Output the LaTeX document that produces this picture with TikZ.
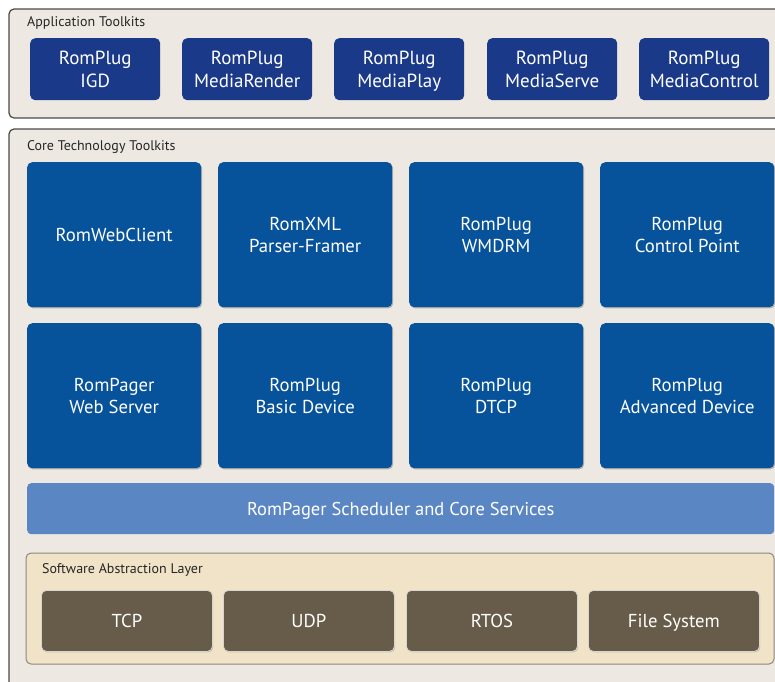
\documentclass[tikz,border=0pt]{standalone}
\usepackage{fontspec}
\setmainfont{PT Sans}
\usetikzlibrary{shadows}
\definecolor{outerfill}{HTML}{EDE8E1}
\definecolor{outerline}{HTML}{4A4A4A}
\definecolor{appblue}{HTML}{1A3A89}
\definecolor{coreblue}{HTML}{06529B}
\definecolor{schedblue}{HTML}{5A87C4}
\definecolor{salfill}{HTML}{F1E3C7}
\definecolor{salline}{HTML}{8A8A80}
\definecolor{graybox}{HTML}{675C49}
\tikzset{
  panel/.style={draw=outerline, line width=1.2pt, fill=outerfill, rounded corners=5pt},
  paneltitle/.style={anchor=west, inner sep=0pt, font=\fontsize{14}{16}\selectfont, text=black!85},
  apptile/.style={anchor=north west, fill=appblue, rounded corners=5pt, minimum width=130pt, minimum height=62pt, inner sep=0pt, text depth=0pt, align=center, text=white, font=\fontsize{19}{22.5}\selectfont},
  coretile/.style={anchor=north west, fill=coreblue, rounded corners=5pt, minimum width=174pt, minimum height=145pt, inner sep=0pt, text depth=0pt, align=center, text=white, font=\fontsize{18.7}{22.5}\selectfont, drop shadow={shadow xshift=1pt, shadow yshift=-1.2pt, fill=black!45, opacity=0.6}},
  schedbar/.style={anchor=north west, fill=schedblue, rounded corners=4pt, minimum width=747pt, minimum height=51pt, inner sep=0pt, text depth=0pt, text=white, font=\fontsize{18.5}{22}\selectfont},
  salpanel/.style={draw=salline, line width=1pt, fill=salfill, rounded corners=5pt},
  salbox/.style={anchor=north west, fill=graybox, draw=white!75!graybox, line width=0.8pt, rounded corners=5pt, minimum width=171pt, minimum height=61pt, inner sep=0pt, text depth=0pt, text=white, font=\fontsize{18.7}{22}\selectfont, drop shadow={shadow xshift=0.8pt, shadow yshift=-1pt, fill=black!40, opacity=0.5}}
}
\begin{document}
\begin{tikzpicture}[x=1pt,y=-1pt]
\useasboundingbox[fill=white] (0,0) rectangle (775,681);
% Application toolkits panel
\draw[panel] (9,9) rectangle (790,118);
\node[paneltitle] (apptitle) at (27,23) {Application Toolkits};
\node[apptile] (igd) at (30,38) {RomPlug\\IGD};
\node[apptile] (render) at (182,38) {RomPlug\\MediaRender};
\node[apptile] (play) at (334,38) {RomPlug\\MediaPlay};
\node[apptile] (serve) at (487,38) {RomPlug\\MediaServe};
\node[apptile] (control) at (639,38) {RomPlug\\MediaControl};
% Core technology panel
\draw[panel] (9,129) rectangle (790,700);
\node[paneltitle] (coretitle) at (27,147) {Core Technology Toolkits};
\node[coretile] (webclient) at (27,162) {RomWebClient};
\node[coretile] (xml) at (218,162) {RomXML\\Parser-Framer};
\node[coretile] (wmdrm) at (409,162) {RomPlug\\WMDRM};
\node[coretile] (cp) at (600,162) {RomPlug\\Control Point};
\node[coretile] (pager) at (27,323) {RomPager\\Web Server};
\node[coretile] (basic) at (218,323) {RomPlug\\Basic Device};
\node[coretile] (dtcp) at (409,323) {RomPlug\\DTCP};
\node[coretile] (adv) at (600,323) {RomPlug\\Advanced Device};
\node[schedbar] (sched) at (27,483) {RomPager Scheduler and Core Services};
% Software abstraction layer
\draw[salpanel] (26,553) rectangle (774,664);
\node[paneltitle] (saltitle) at (42,570) {Software Abstraction Layer};
\node[salbox] (tcp) at (41,590) {TCP};
\node[salbox] (udp) at (223,590) {UDP};
\node[salbox] (rtos) at (406,590) {RTOS};
\node[salbox] (fs) at (588,590) {File System};
\end{tikzpicture}
\end{document}
